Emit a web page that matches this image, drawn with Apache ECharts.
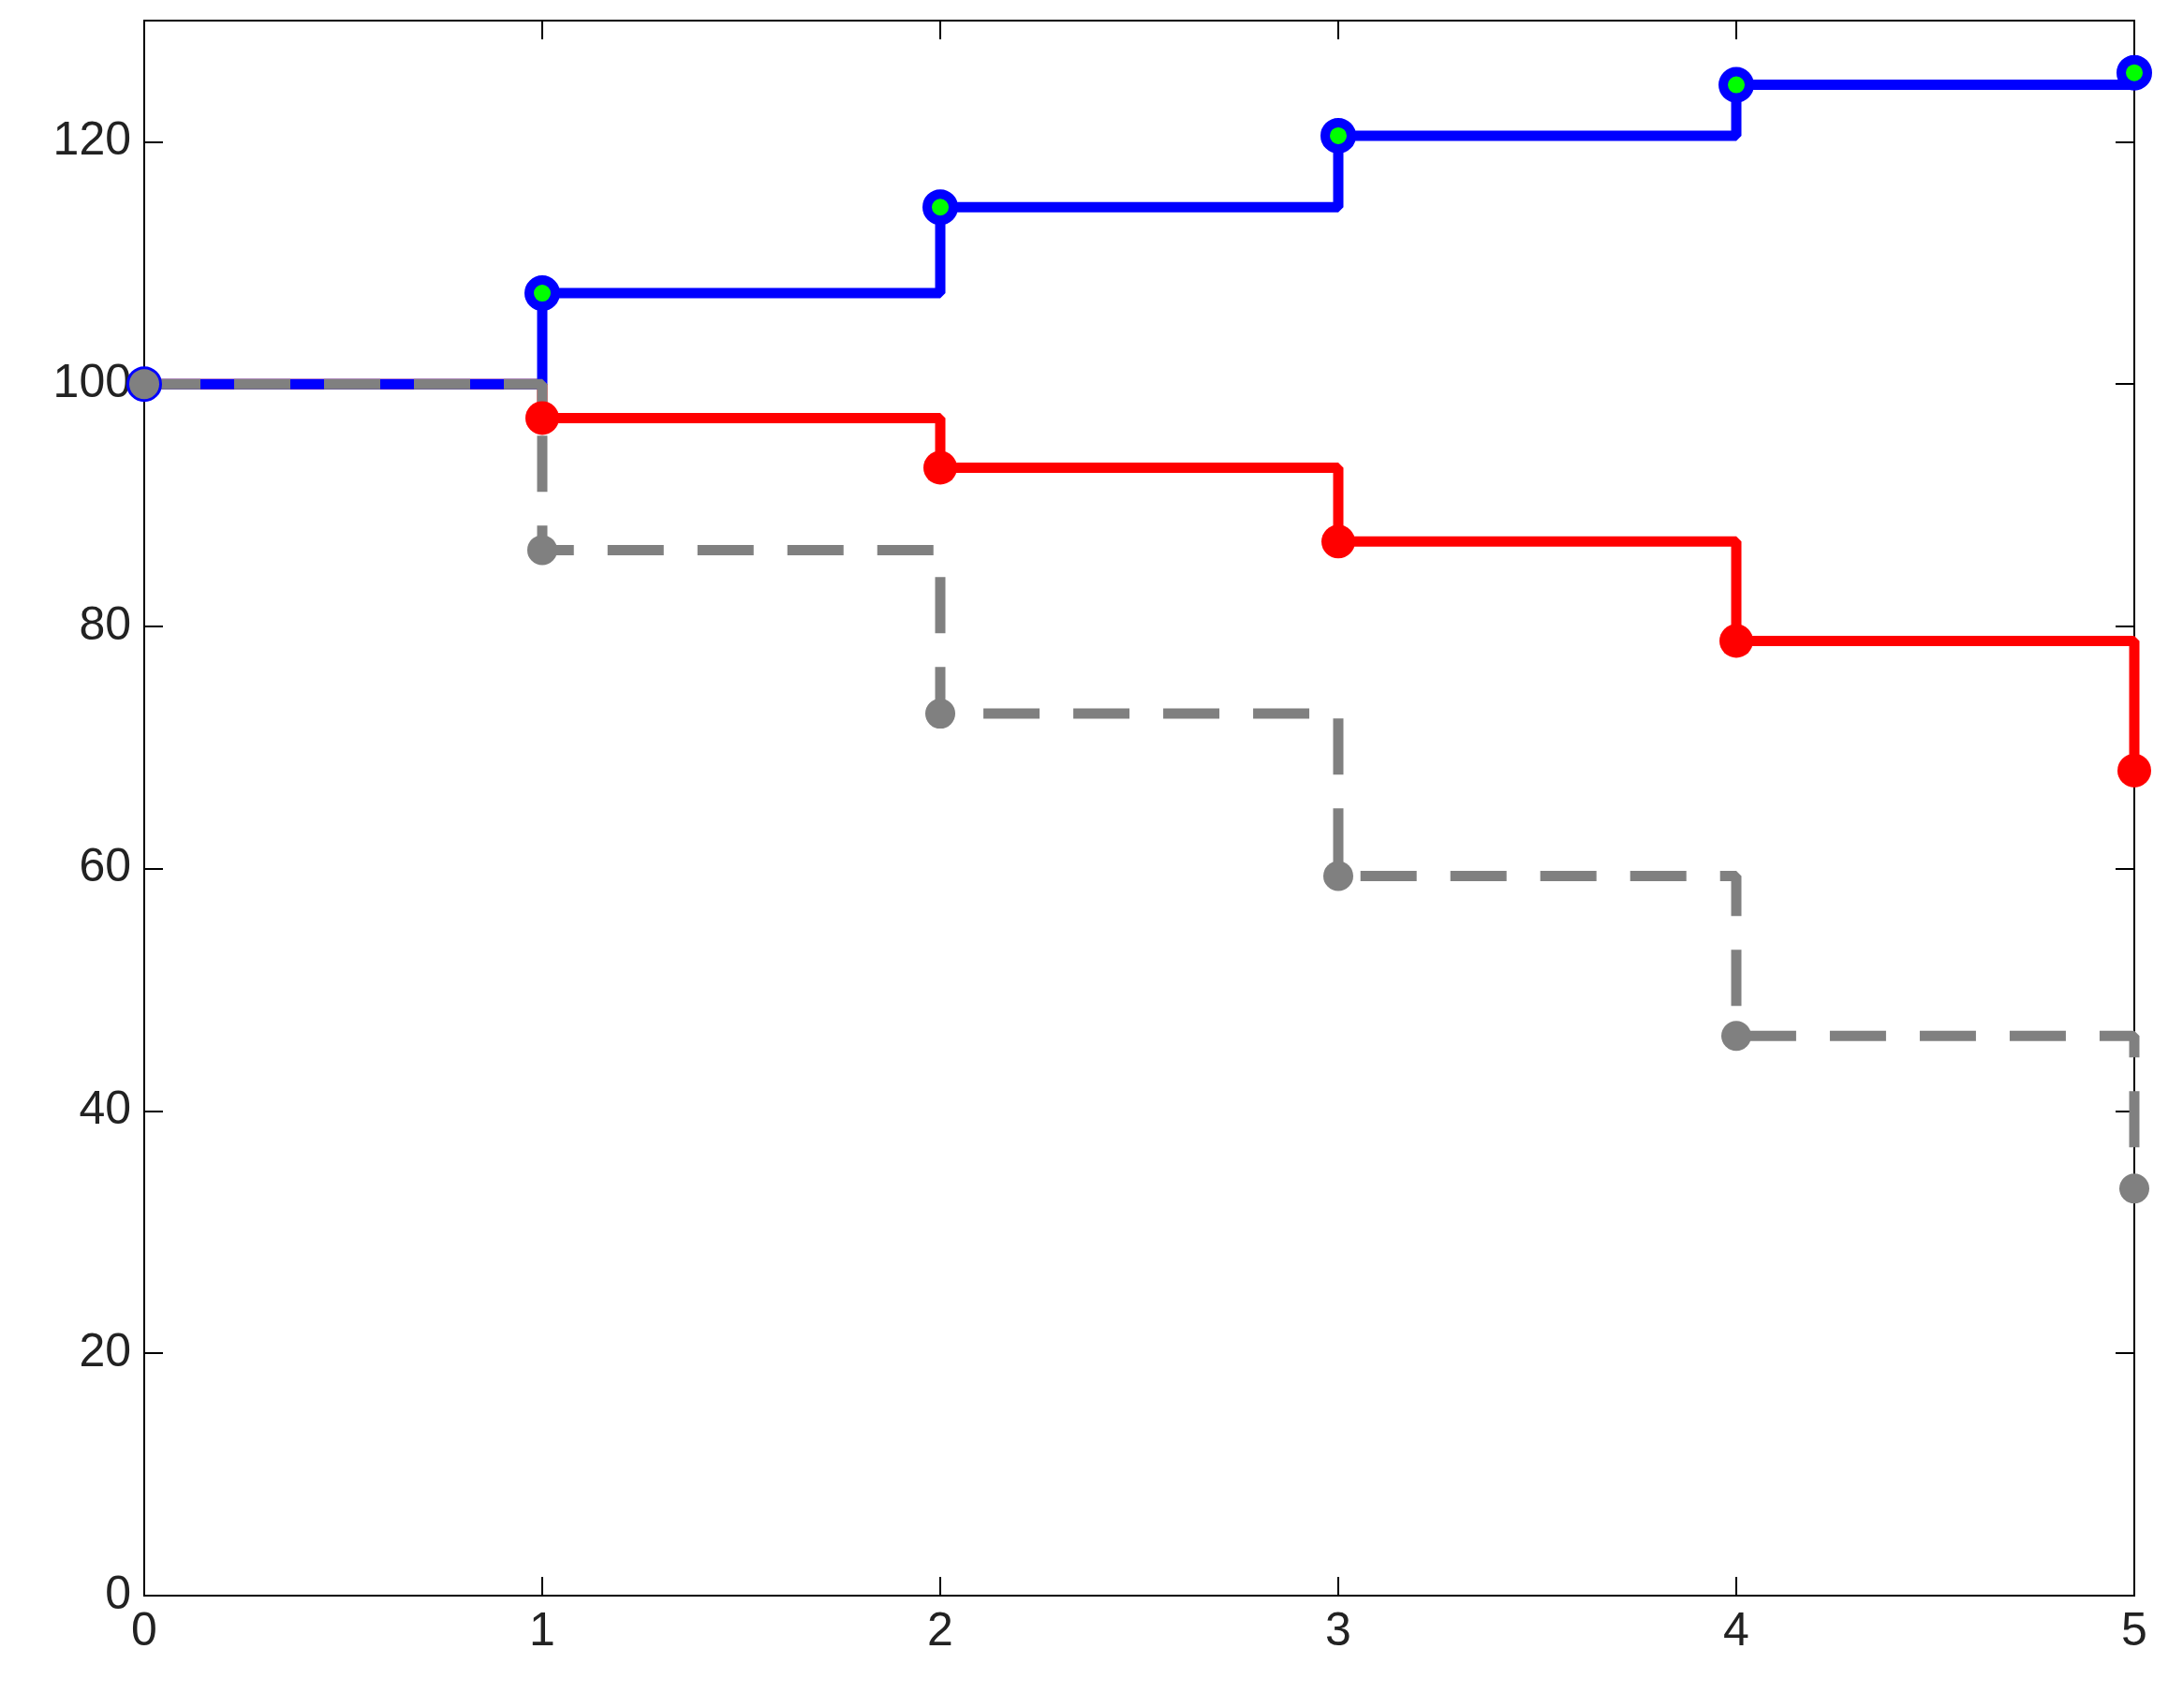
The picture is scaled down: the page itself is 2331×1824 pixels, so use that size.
<!DOCTYPE html>
<html><head><meta charset="utf-8">
<script src="https://cdn.jsdelivr.net/npm/echarts@6/dist/echarts.min.js"></script>
<style>html,body{margin:0;padding:0;background:#fff}#c{width:2331px;height:1824px}</style>
</head><body><div id="c"></div>
<script>
var xs = [0, 1, 2, 3, 4, 5]
var blueVals = [100, 107.5, 114.6, 120.5, 124.7, 125.7]
var redVals = [100, 97.2, 93.1, 87.0, 78.8, 68.1]
var grayVals = [100, 86.3, 72.8, 59.4, 46.2, 33.6]

function pts(v) { return xs.map(function (x, i) { return [x, v[i]] }) }

function axisCommon(showLabel) {
  return {
    axisLine: { onZero: false, lineStyle: { color: '#000', width: 2 } },
    axisTick: { inside: true, length: 20, lineStyle: { color: '#000', width: 2 } },
    axisLabel: {
      show: showLabel, color: '#222', fontSize: 50, fontFamily: 'Liberation Sans, Arial', margin: 14,
      formatter: function (v) { return v === 130 ? '' : v }
    },
    splitLine: { show: false }
  }
}

var myChart = echarts.init(document.getElementById('c'))
myChart.setOption({
  animation: false,
  grid: { left: 154, right: 52, top: 22, bottom: 120, show: true, borderColor: '#000', borderWidth: 2 },
  xAxis: [
    Object.assign({ type: 'value', min: 0, max: 5, interval: 1, position: 'bottom' }, axisCommon(true)),
    Object.assign({ type: 'value', min: 0, max: 5, interval: 1, position: 'top' }, axisCommon(false))
  ],
  yAxis: [
    Object.assign({ type: 'value', min: 0, max: 130, interval: 20, position: 'left' }, axisCommon(true)),
    Object.assign({ type: 'value', min: 0, max: 130, interval: 20, position: 'right' }, axisCommon(false))
  ],
  series: [
    {
      type: 'line', step: 'end', data: pts(redVals),
      lineStyle: { color: '#ff0000', width: 11 },
      symbol: 'circle', symbolSize: 36,
      itemStyle: { color: '#ff0000' }
    },
    {
      type: 'line', step: 'end', data: pts(blueVals),
      lineStyle: { color: '#0000ff', width: 11 },
      symbol: 'circle', symbolSize: 28,
      itemStyle: { color: '#00ff00', borderColor: '#0000ff', borderWidth: 10 }
    },
    {
      type: 'line', step: 'end', data: pts(grayVals),
      lineStyle: { color: '#808080', width: 11, type: [60, 36] },
      symbol: 'circle', symbolSize: 32,
      itemStyle: { color: '#808080' }
    }
  ]
})
</script></body></html>
